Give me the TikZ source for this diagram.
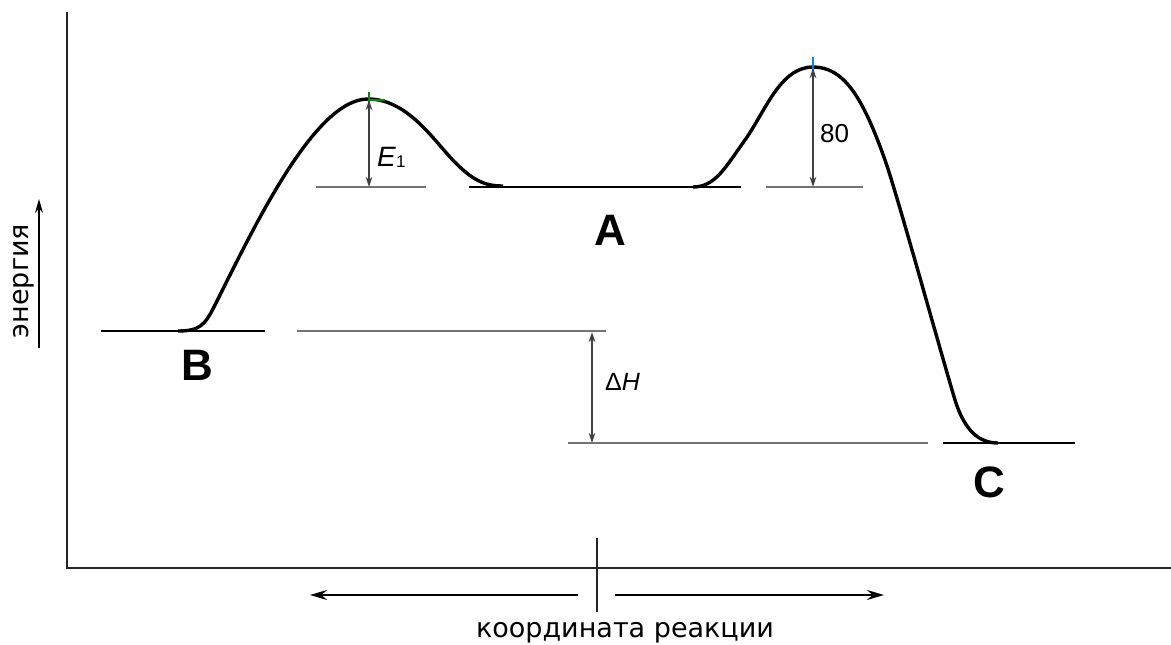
\documentclass[tikz,border=0pt]{standalone}
\usepackage{fontspec}
\setmainfont{Liberation Sans}
\newfontfamily\dejavu{DejaVu Sans}
\usetikzlibrary{arrows.meta}
\begin{document}
\begin{tikzpicture}[x=1pt,y=-1pt,
  axisline/.style={line width=1.8pt,draw=black!85},
  curve/.style={line width=3.4pt,black,line join=round},
  levelblack/.style={line width=2pt,black},
  levelgray/.style={line width=1.3pt,black!55},
  dimarrow/.style={line width=1.1pt,black!75,{Stealth[length=10pt,width=6.5pt]}-{Stealth[length=10pt,width=6.5pt]}},
  dirarrow/.style={line width=1.8pt,black,-{Stealth[length=17pt,width=10pt]}},
  biglabel/.style={font=\fontsize{44}{44}\selectfont\bfseries,inner sep=0pt,anchor=base},
  smalllabel/.style={font=\fontsize{26}{26}\selectfont,inner sep=0pt,anchor=base west},
  axislabel/.style={font=\dejavu\fontsize{27}{27}\selectfont,inner sep=0pt}]
\useasboundingbox (0,0) rectangle (1171,645);
\fill[white] (0,0) rectangle (1171,645);
% axes
\coordinate (ytop) at (67,12);
\coordinate (origin) at (67,568);
\coordinate (xend) at (1171,568);
\draw[axisline] (ytop) -- (origin) -- (xend);
\coordinate (ticktop) at (597,538);
\coordinate (tickbot) at (597,612);
\draw[axisline] (ticktop) -- (tickbot);
% direction arrows
\coordinate (la0) at (578,595); \coordinate (la1) at (310,595);
\coordinate (ra0) at (615,595); \coordinate (ra1) at (884,595);
\draw[dirarrow] (la0) -- (la1);
\draw[dirarrow] (ra0) -- (ra1);
\node[axislabel,anchor=base] (xlab) at (625,637) {координата реакции};
% energy label
\coordinate (ea0) at (39,348); \coordinate (ea1) at (39,199);
\draw[line width=1.6pt,black,-{Stealth[length=14pt,width=8pt]}] (ea0) -- (ea1);
\node[axislabel,rotate=90,anchor=base] (ylab) at (28,281) {энергия};
% level lines
\coordinate (b0) at (101,331); \coordinate (b1) at (265,331);
\draw[levelblack] (b0) -- (b1);
\coordinate (bg0) at (297,331); \coordinate (bg1) at (606,331);
\draw[levelgray] (bg0) -- (bg1);
\coordinate (e0) at (316,187); \coordinate (e1) at (426,187);
\draw[levelgray] (e0) -- (e1);
\coordinate (a0) at (469,187); \coordinate (a1) at (741,187);
\draw[levelblack] (a0) -- (a1);
\coordinate (g0) at (766,187); \coordinate (g1) at (863,187);
\draw[levelgray] (g0) -- (g1);
\coordinate (h0) at (568,443); \coordinate (h1) at (928,443);
\draw[levelgray] (h0) -- (h1);
\coordinate (c0) at (943,443); \coordinate (c1) at (1075,443);
\draw[levelblack] (c0) -- (c1);
% curves
\draw[curve] (178,331) .. controls (200,331) and (205,325) .. (215,305)
  .. controls (255,225) and (315,99) .. (368,99)
  .. controls (405,99) and (430,135) .. (450,157)
  .. controls (472,181) and (485,186) .. (503,186);
\draw[curve] (693,187) .. controls (715,187) and (725,168) .. (745,140)
  .. controls (765,112) and (780,67) .. (813,67)
  .. controls (843,67) and (862,95) .. (885,160)
  .. controls (897,194) and (940,350) .. (955,400)
  .. controls (965,432) and (980,443) .. (998,443);
% small tick marks at peaks
\draw[line width=1.3pt,green!55!black] (369,92) -- (369,105);
\draw[line width=1.3pt,green!55!black] (369,100) -- (385,100);
\draw[line width=1.3pt,cyan!70!blue] (813,57) -- (813,71);
% dimension arrows
\coordinate (E1top) at (369,100); \coordinate (E1bot) at (369,187);
\draw[dimarrow] (E1top) -- (E1bot);
\coordinate (Ptop) at (813,68); \coordinate (Pbot) at (813,187);
\draw[dimarrow] (Ptop) -- (Pbot);
\coordinate (Htop) at (592,332); \coordinate (Hbot) at (592,443);
\draw[dimarrow] (Htop) -- (Hbot);
% labels
\node[smalllabel,font=\fontsize{28}{28}\selectfont] (E1lab) at (377,166) {\textit{E}\raisebox{-1pt}{\fontsize{17}{17}\selectfont 1}};
\node[smalllabel] (P80) at (820,142) {80};
\node[smalllabel,font=\fontsize{25}{25}\selectfont] (dH) at (605,390) {Δ\textit{H}};
\node[biglabel] (A) at (610,245) {A};
\node[biglabel] (B) at (197,380) {B};
\node[biglabel] (C) at (989,497) {C};
\end{tikzpicture}
\end{document}
